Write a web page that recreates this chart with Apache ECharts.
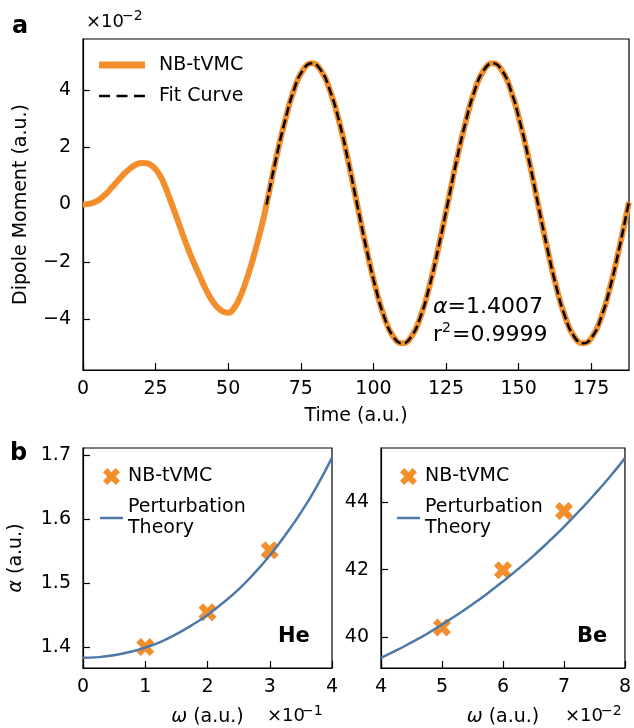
<!DOCTYPE html>
<html><head><meta charset="utf-8">
<script src="https://cdn.jsdelivr.net/npm/echarts@6/dist/echarts.min.js"></script>
<style>html,body{margin:0;padding:0;background:#fff}#c{width:634px;height:728px}</style>
</head><body><div id="c"></div>
<script>
const FONT = 'DejaVu Sans';
const ORANGE = '#F28E2B';
const BLUE = '#4E79A7';

// Panel a: dipole moment (x1e-2) vs time
const tOrange = [0,2,4,6,8,10,12,14,16,18,20,22,24,26,28,30,32,34,36,38,40,42,44,46,48,50,52,54,56,58,60,62,
  63.2,66.3,69.5,72.6,75.7,78.8,81.9,85.0,88.2,91.3,94.4,97.5,100.6,103.7,106.8,110.0,113.1,116.2,119.3,122.4,
  125.5,128.6,131.8,134.9,138.0,141.1,144.2,147.3,150.4,153.6,156.7,159.8,162.9,166.0,169.1,172.2,175.4,178.5,181.6,184.7,187.8,188];
const dOrange = [0,0.02,0.08,0.2,0.38,0.6,0.83,1.05,1.24,1.38,1.45,1.44,1.33,1.1,0.7,0.17,-0.38,-0.95,-1.5,-2.0,-2.45,-2.9,-3.28,-3.56,-3.73,-3.78,-3.62,-3.25,-2.72,-2.08,-1.35,-0.55,
  0,1.52,2.9,3.99,4.69,4.93,4.69,3.99,2.9,1.52,0,-1.5,-2.85,-3.92,-4.61,-4.85,-4.61,-3.92,-2.85,-1.5,
  0,1.52,2.9,3.99,4.69,4.93,4.69,3.99,2.9,1.52,0,-1.5,-2.85,-3.92,-4.61,-4.85,-4.61,-3.92,-2.85,-1.5,0,0.08];
const tFit = [63.2,66.3,69.5,72.6,75.7,78.8,81.9,85.0,88.2,91.3,94.4,97.5,100.6,103.7,106.8,110.0,113.1,116.2,119.3,122.4,
  125.5,128.6,131.8,134.9,138.0,141.1,144.2,147.3,150.4,153.6,156.7,159.8,162.9,166.0,169.1,172.2,175.4,178.5,181.6,184.7,187.8,188];
const dFit = [0,1.52,2.9,3.99,4.69,4.93,4.69,3.99,2.9,1.52,0,-1.5,-2.85,-3.92,-4.61,-4.85,-4.61,-3.92,-2.85,-1.5,
  0,1.52,2.9,3.99,4.69,4.93,4.69,3.99,2.9,1.52,0,-1.5,-2.85,-3.92,-4.61,-4.85,-4.61,-3.92,-2.85,-1.5,0,0.08];
const xTicksA = [0,25,50,75,100,125,150,175];
const yTicksA = [-4,-2,0,2,4];

// Panel b, He: alpha vs omega (x1e-1)
const heOmegaCurve = [0,0.25,0.5,0.75,1,1.25,1.5,1.75,2,2.25,2.5,2.75,3,3.25,3.5,3.75,4];
const heAlphaCurve = [1.383,1.384,1.387,1.392,1.399,1.408,1.420,1.434,1.450,1.469,1.490,1.515,1.543,1.575,1.610,1.650,1.696];
const heOmegaPts = [1,2,3];
const heAlphaPts = [1.400,1.454,1.551];
const heXTicks = [0,1,2,3,4];
const heYTicks = [1.4,1.5,1.6,1.7];

// Panel b, Be: alpha vs omega (x1e-2)
const beOmegaCurve = [4,4.25,4.5,4.75,5,5.25,5.5,5.75,6,6.25,6.5,6.75,7,7.25,7.5,7.75,8];
const beAlphaCurve = [39.38,39.60,39.84,40.09,40.37,40.66,40.97,41.30,41.65,42.02,42.41,42.83,43.27,43.74,44.23,44.75,45.31];
const beOmegaPts = [5,6,7];
const beAlphaPts = [40.28,41.98,43.74];
const beXTicks = [4,5,6,7,8];
const beYTicks = [40,42,44];

const zip = (a, b) => a.map((v, i) => [v, b[i]]);
const XPATH = 'path://M2.5,0 L5,2.5 L7.5,0 L10,2.5 L7.5,5 L10,7.5 L7.5,10 L5,7.5 L2.5,10 L0,7.5 L2.5,5 L0,2.5 Z';
const ICON_ORANGE = 'path://M0,0h46v7h-46z';
const ICON_DASH = 'path://M0,0h11v2.7h-11z M17.5,0h11v2.7h-11z M35,0h11v2.7h-11z';
const ICON_BLUE = 'path://M0,0h23v2.5h-23z';
const minus = v => (v < 0 ? '\u2212' + Math.abs(v) : String(v));

const FS = 19;
function xAxisCfg(gridIndex, min, max, ticks, name, gap) {
  return {
    type: 'value', gridIndex, min, max,
    name, nameLocation: 'middle', nameGap: gap,
    nameTextStyle: { fontFamily: FONT, fontSize: FS, color: '#000', rich: { w: { fontFamily: FONT, fontSize: FS, fontStyle: 'italic', color: '#000' } } },
    axisLine: { show: true, onZero: false, lineStyle: { color: '#000', width: 1.2 } },
    axisTick: { show: true, inside: true, length: 7, customValues: ticks, lineStyle: { color: '#000', width: 1.2 } },
    axisLabel: { customValues: ticks, margin: 10, fontFamily: FONT, fontSize: FS, color: '#000', formatter: v => minus(v) },
    splitLine: { show: false }
  };
}
function yAxisCfg(gridIndex, min, max, ticks, name, gap, fmt) {
  return {
    type: 'value', gridIndex, min, max,
    name, nameLocation: 'middle', nameGap: gap,
    nameTextStyle: { fontFamily: FONT, fontSize: FS, color: '#000', rich: { w: { fontFamily: FONT, fontSize: FS, fontStyle: 'italic', color: '#000' } } },
    axisLine: { show: true, onZero: false, lineStyle: { color: '#000', width: 1.2 } },
    axisTick: { show: true, inside: true, length: 7, customValues: ticks, lineStyle: { color: '#000', width: 1.2 } },
    axisLabel: { customValues: ticks, margin: 12, fontFamily: FONT, fontSize: FS, color: '#000', formatter: fmt },
    splitLine: { show: false }
  };
}

function txt(x, y, text, size, opts) {
  return { type: 'text', x, y, silent: true, style: Object.assign({ text, fill: '#000', font: (opts && opts.weight ? opts.weight + ' ' : '') + size + 'px "DejaVu Sans"', textAlign: 'left', textVerticalAlign: 'middle' }, (opts && opts.style) || {}) };
}

const legendNames = { 'He-NB': 'NB-tVMC', 'Be-NB': 'NB-tVMC', 'He-PT': 'Perturbation\nTheory', 'Be-PT': 'Perturbation\nTheory' };
const legendFmt = n => legendNames[n] || n;

const option = {
  animation: false,
  backgroundColor: '#fff',
  grid: [
    { left: 83, top: 39, width: 546, height: 331, show: true, borderColor: '#000', borderWidth: 1.2, backgroundColor: 'transparent' },
    { left: 83, top: 448, width: 249, height: 221, show: true, borderColor: '#000', borderWidth: 1.2, backgroundColor: 'transparent' },
    { left: 381, top: 448, width: 248, height: 221, show: true, borderColor: '#000', borderWidth: 1.2, backgroundColor: 'transparent' }
  ],
  xAxis: [
    xAxisCfg(0, 0, 188, xTicksA, 'Time (a.u.)', 37),
    xAxisCfg(1, 0, 4, heXTicks, '{w|ω} (a.u.)', 40),
    xAxisCfg(2, 4, 8, beXTicks, '{w|ω} (a.u.)', 40)
  ],
  yAxis: [
    yAxisCfg(0, -5.78, 5.78, yTicksA, 'Dipole Moment (a.u.)', 52, v => minus(v)),
    yAxisCfg(1, 1.367, 1.711, heYTicks, '{w|α} (a.u.)', 57, v => v.toFixed(1)),
    yAxisCfg(2, 39.08, 45.61, beYTicks, '', 50, v => String(v))
  ],
  legend: [
    { data: [{ name: 'NB-tVMC', icon: ICON_ORANGE }, { name: 'Fit Curve', icon: ICON_DASH }], orient: 'vertical', left: 99, top: 55, padding: 0, itemGap: 11, itemWidth: 46, itemHeight: 20, selectedMode: false,
      textStyle: { fontFamily: FONT, fontSize: FS, color: '#000', lineHeight: 20, padding: [0, 0, 0, 9] } },
    { data: [{ name: 'He-NB' }, { name: 'He-PT', icon: ICON_BLUE }], formatter: legendFmt, orient: 'vertical', left: 100, top: 466, padding: 0, itemGap: 10, itemWidth: 23, itemHeight: 17, selectedMode: false,
      textStyle: { fontFamily: FONT, fontSize: FS, color: '#000', lineHeight: 21 } },
    { data: [{ name: 'Be-NB' }, { name: 'Be-PT', icon: ICON_BLUE }], formatter: legendFmt, orient: 'vertical', left: 397, top: 466, padding: 0, itemGap: 10, itemWidth: 23, itemHeight: 17, selectedMode: false,
      textStyle: { fontFamily: FONT, fontSize: FS, color: '#000', lineHeight: 21 } }
  ],
  series: [
    { name: 'NB-tVMC', type: 'line', xAxisIndex: 0, yAxisIndex: 0, data: zip(tOrange, dOrange), smooth: true, symbol: 'none',
      lineStyle: { color: ORANGE, width: 6 }, itemStyle: { color: ORANGE } },
    { name: 'Fit Curve', type: 'line', xAxisIndex: 0, yAxisIndex: 0, data: zip(tFit, dFit), smooth: true, symbol: 'none',
      lineStyle: { color: '#000', width: 2.5, type: [9, 4] }, itemStyle: { color: '#000' } },
    { name: 'He-PT', type: 'line', xAxisIndex: 1, yAxisIndex: 1, data: zip(heOmegaCurve, heAlphaCurve), smooth: true, symbol: 'none',
      lineStyle: { color: BLUE, width: 2.5 }, itemStyle: { color: BLUE } },
    { name: 'He-NB', type: 'scatter', xAxisIndex: 1, yAxisIndex: 1, data: zip(heOmegaPts, heAlphaPts), symbol: XPATH, symbolSize: 18,
      itemStyle: { color: ORANGE, opacity: 1 } },
    { name: 'Be-PT', type: 'line', xAxisIndex: 2, yAxisIndex: 2, data: zip(beOmegaCurve, beAlphaCurve), smooth: true, symbol: 'none',
      lineStyle: { color: BLUE, width: 2.5 }, itemStyle: { color: BLUE } },
    { name: 'Be-NB', type: 'scatter', xAxisIndex: 2, yAxisIndex: 2, data: zip(beOmegaPts, beAlphaPts), symbol: XPATH, symbolSize: 18,
      itemStyle: { color: ORANGE, opacity: 1 } }
  ],
  graphic: [
    txt(12, 27, 'a', 24, { weight: 'bold' }),
    txt(86, 22, '\u00d710', 18),
    txt(122, 16, '\u22122', 14),
    txt(10, 454, 'b', 24, { weight: 'bold' }),
    txt(267, 716, '\u00d710', 18),
    txt(302, 711, '\u22121', 14),
    txt(565, 716, '\u00d710', 18),
    txt(601, 711, '\u22122', 14),
    { type: 'text', x: 433, y: 307, silent: true, style: { text: '{i|α}=1.4007', fill: '#000', font: '22px "DejaVu Sans"', textVerticalAlign: 'middle',
      rich: { i: { fontFamily: FONT, fontSize: 22, fontStyle: 'italic', fill: '#000' } } } },
    txt(433, 335, 'r', 22),
    txt(442, 328, '2', 14),
    txt(452, 335, '=0.9999', 22),
    txt(278, 637, 'He', 21, { weight: 'bold' }),
    txt(577, 637, 'Be', 21, { weight: 'bold' })
  ]
};
const chart = echarts.init(document.getElementById('c'), null, { renderer: 'canvas' });
chart.setOption(option);
</script></body></html>
